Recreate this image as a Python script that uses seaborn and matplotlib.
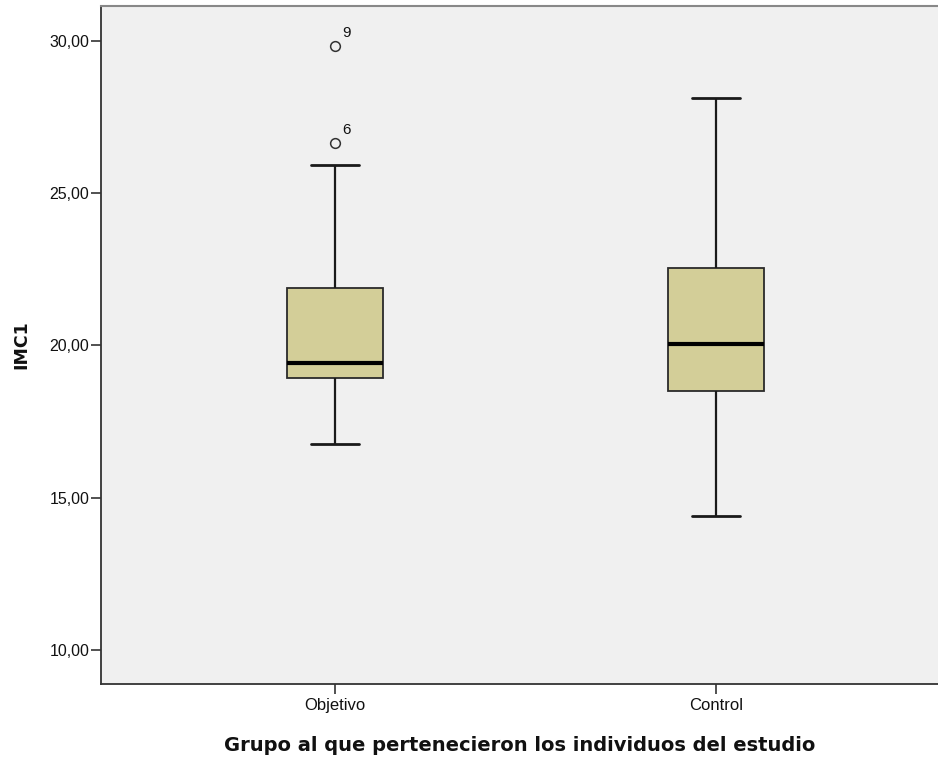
import numpy as np
import pandas as pd
import matplotlib
matplotlib.use("Agg")
import matplotlib.pyplot as plt
import seaborn as sns
from matplotlib.ticker import FuncFormatter, FixedLocator

# ---- data ----
groups = ["Objetivo", "Control"]
whislo = [16.75, 14.40]
q1 = [18.92, 18.50]
med = [19.41, 20.03]
q3 = [21.87, 22.55]
whishi = [25.92, 28.11]
outliers = [[26.65, 29.82], []]
outlier_ids = [["6", "9"], []]
yticks = [10, 15, 20, 25, 30]

# observations that reproduce the five-number summaries exactly
rows = []
for g, lo, a, m, b, hi, outs in zip(groups, whislo, q1, med, q3, whishi, outliers):
    vals = [lo, a, a, a, m, m, m, b, b, b, hi] + list(outs)
    rows += [(g, v) for v in vals]
df = pd.DataFrame(rows, columns=["group", "value"])

sns.set_theme(style="white")
plt.rcParams["font.family"] = ["Liberation Sans", "DejaVu Sans"]

fig = plt.figure(figsize=(9.38, 7.59), dpi=100)
ax = fig.add_axes([0.1077, 0.0988, 0.8923, 0.8933])
ax.set_facecolor("#F0F0F0")

sns.boxplot(
    data=df, x="group", y="value", order=groups, ax=ax,
    width=0.25, color="#D3CE98", saturation=1, linecolor="#1a1a1a",
    linewidth=1.3, whis=1.5,
    boxprops=dict(edgecolor="#2a2a2a", linewidth=1.3),
    medianprops=dict(color="black", linewidth=3),
    whiskerprops=dict(color="#1a1a1a", linewidth=1.6),
    capprops=dict(color="#1a1a1a", linewidth=2.0),
    flierprops=dict(marker="o", markerfacecolor="none",
                    markeredgecolor="#333333", markersize=7, markeredgewidth=1.1),
)

# outlier case labels
for i, (outs, ids) in enumerate(zip(outliers, outlier_ids)):
    for v, lab in zip(outs, ids):
        ax.annotate(lab, xy=(i, v), xytext=(5.5, 4.5), textcoords="offset points",
                    fontsize=11, color="#111111", ha="left", va="bottom")

ax.set_xlim(-0.614, 1.583)
ax.set_ylim(8.885, 31.14)
ax.yaxis.set_major_locator(FixedLocator(yticks))
ax.yaxis.set_major_formatter(FuncFormatter(lambda v, p: f"{v:.2f}".replace(".", ",")))

ax.tick_params(axis="both", which="major", direction="out", length=7.5, width=1.2,
               color="#333333", labelcolor="#111111", left=True, bottom=True)
ax.tick_params(axis="y", pad=1, labelsize=11.5)
ax.tick_params(axis="x", pad=2.5, labelsize=12)

for s in ["left", "bottom"]:
    ax.spines[s].set_color("#333333")
    ax.spines[s].set_linewidth(1.3)
ax.spines["top"].set_color("#888888")
ax.spines["top"].set_linewidth(1.5)
ax.spines["right"].set_visible(False)

ax.set_xlabel("Grupo al que pertenecieron los individuos del estudio",
              fontsize=14, fontweight="bold", family="DejaVu Sans", labelpad=16.5,
              color="#111111")
ax.set_ylabel("IMC1", fontsize=12.5, fontweight="bold", family="DejaVu Sans", labelpad=14,
              color="#111111")

fig.savefig("out.png", dpi=100)
